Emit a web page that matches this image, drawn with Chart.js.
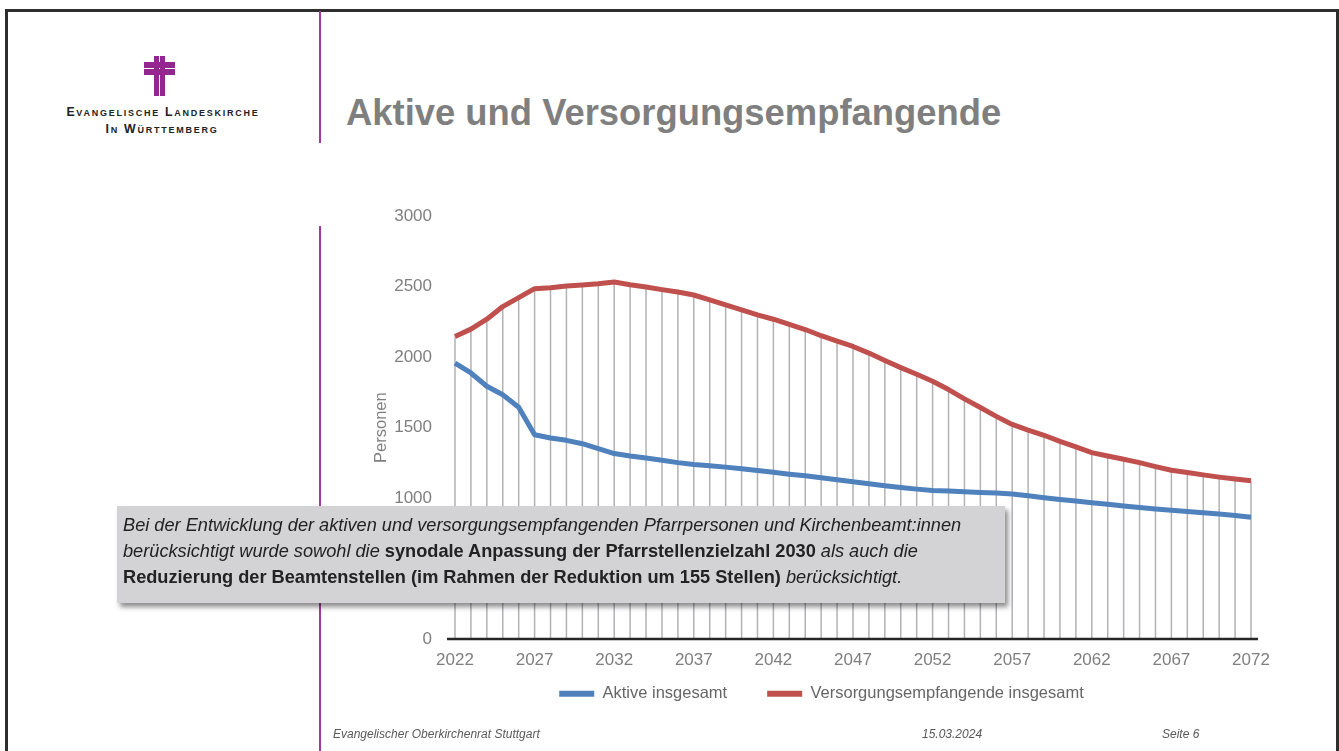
<!DOCTYPE html>
<html>
<head>
<meta charset="utf-8">
<script src="https://cdn.jsdelivr.net/npm/chart.js@4.4.1/dist/chart.umd.min.js"></script>
<style>
  body { margin: 0; width: 1339px; height: 751px; overflow: hidden; background: #fff; position: relative;
         font-family: "Liberation Sans", Arial, sans-serif; }
  .frame { position: absolute; left: 5px; top: 9px; width: 1328px; height: 760px; border: 3px solid #2e2e2e; }
  .vline { position: absolute; left: 319px; width: 2px; background: #a2399e; }
  .cross div { position: absolute; background: #93278f; }
  .logo { position: absolute; left: 0; width: 320px; text-align: center; color: #222; font-weight: bold;
          font-variant: small-caps; letter-spacing: 1.75px; font-size: 12.3px; }
  h1 { position: absolute; left: 346px; top: 92px; margin: 0; font-size: 36.4px; font-weight: bold; color: #7f7f7f; }
  #wrap { position: absolute; left: 330px; top: 191px; width: 980px; height: 549px; }
  .note { position: absolute; left: 117px; top: 506px; width: 882px; height: 85px; padding: 6px 0 6px 6px;
          background: #d3d3d5; box-shadow: 3px 4px 5px rgba(0,0,0,0.45); color: #222;
          font-size: 18.2px; line-height: 26px; font-style: italic; }
  .note b { font-style: normal; }
  .foot { position: absolute; top: 727px; font-style: italic; font-size: 12px; color: #595959; }
</style>
</head>
<body>
<div class="frame"></div>
<div class="vline" style="top:11px;height:132px"></div>
<div class="vline" style="top:226px;height:525px"></div>

<div class="cross">
  <div style="left:154px;top:56px;width:5px;height:40px"></div>
  <div style="left:160px;top:56px;width:5px;height:40px"></div>
  <div style="left:144px;top:62px;width:31px;height:6px"></div>
  <div style="left:144px;top:69px;width:31px;height:6px"></div>
</div>
<div class="logo" style="top:105px;left:3px">Evangelische Landeskirche</div>
<div class="logo" style="top:122px;left:2px">In Württemberg</div>

<h1>Aktive und Versorgungsempfangende</h1>

<div id="wrap"><canvas id="chart"></canvas></div>

<div class="note">
  Bei der Entwicklung der aktiven und versorgungsempfangenden Pfarrpersonen und Kirchenbeamt:innen<br>
  berücksichtigt wurde sowohl die <b>synodale Anpassung der Pfarrstellenzielzahl 2030</b> als auch die<br>
  <b>Reduzierung der Beamtenstellen (im Rahmen der Reduktion um 155 Stellen)</b> berücksichtigt.
</div>

<div class="foot" style="left:333px">Evangelischer Oberkirchenrat Stuttgart</div>
<div class="foot" style="left:922px">15.03.2024</div>
<div class="foot" style="left:1162px">Seite 6</div>

<script>
const years = ['2022','2023','2024','2025','2026','2027','2028','2029','2030','2031',
  '2032','2033','2034','2035','2036','2037','2038','2039','2040','2041',
  '2042','2043','2044','2045','2046','2047','2048','2049','2050','2051',
  '2052','2053','2054','2055','2056','2057','2058','2059','2060','2061',
  '2062','2063','2064','2065','2066','2067','2068','2069','2070','2071','2072'];

const aktive = [1958,1888,1794,1733,1645,1450,1427,1410,1386,1351,
  1316,1299,1285,1269,1252,1238,1229,1220,1208,1196,
  1184,1170,1158,1144,1130,1116,1102,1088,1076,1064,
  1054,1050,1045,1040,1036,1029,1017,1003,991,980,
  968,957,944,933,923,914,905,896,887,876,865];

const versorgung = [2147,2199,2269,2359,2422,2486,2493,2505,2512,2521,
  2533,2514,2498,2479,2462,2441,2406,2371,2335,2300,
  2269,2232,2196,2152,2114,2076,2029,1977,1926,1879,
  1829,1770,1704,1643,1580,1523,1483,1446,1403,1363,
  1323,1299,1276,1252,1224,1198,1182,1165,1149,1135,1123];

const yTicks = [0, 500, 1000, 1500, 2000, 2500, 3000];

// Excel-style drop lines from the top series down to 0, plus the x axis line
const dropLines = {
  id: 'dropLines',
  beforeDatasetsDraw(chart) {
    const { ctx, scales: { x, y } } = chart;
    const y0 = y.getPixelForValue(0);
    ctx.save();
    ctx.strokeStyle = '#b2b2b6';
    ctx.lineWidth = 1.5;
    chart.getDatasetMeta(1).data.forEach(pt => {
      ctx.beginPath();
      ctx.moveTo(pt.x, pt.y);
      ctx.lineTo(pt.x, y0);
      ctx.stroke();
    });
    ctx.strokeStyle = '#262626';
    ctx.lineWidth = 2.5;
    ctx.beginPath();
    ctx.moveTo(x.left - 8, y0);
    ctx.lineTo(x.right + 7, y0);
    ctx.stroke();
    ctx.restore();
  }
};

// legend padding is 40 so items sit 40px apart; pull the row back up towards the axis
// and centre it on the canvas rather than on the padded box
const legendLift = {
  id: 'legendLift',
  afterInit(chart) {
    const lg = chart.legend;
    const draw = lg.draw.bind(lg);
    lg.draw = function () {
      chart.ctx.save();
      chart.ctx.translate(16, -28);
      draw();
      chart.ctx.restore();
    };
  }
};

const grey = '#7f7f7f';
const font = s => ({ family: '"Liberation Sans", Arial, sans-serif', size: s });

new Chart(document.getElementById('chart'), {
  type: 'line',
  data: {
    labels: years,
    datasets: [
      { label: 'Aktive insgesamt', data: aktive, borderColor: '#4f81bd', backgroundColor: '#4f81bd',
        borderWidth: 5, pointRadius: 0, borderJoinStyle: 'round' },
      { label: 'Versorgungsempfangende insgesamt', data: versorgung, borderColor: '#c0504d', backgroundColor: '#c0504d',
        borderWidth: 5, pointRadius: 0, borderJoinStyle: 'round' }
    ]
  },
  options: {
    responsive: true,
    maintainAspectRatio: false,
    animation: false,
    layout: { padding: { left: 30, right: 59, top: 0, bottom: 0 } },
    scales: {
      x: {
        offset: false,
        grid: { display: false },
        border: { display: false },
        ticks: {
          autoSkip: false, maxRotation: 0, color: grey, font: font(17), padding: 3,
          callback: (v, i) => (i % 5 === 0 ? years[i] : '')
        }
      },
      y: {
        min: 0, max: 3000,
        afterBuildTicks: axis => { axis.ticks = yTicks.map(v => ({ value: v })); },
        afterFit: axis => { axis.width = 95; },
        grid: { display: false },
        border: { display: false },
        ticks: { color: grey, font: font(17), padding: 15, callback: v => String(v) },
        title: { display: true, text: 'Personen', color: grey, font: font(16.5), padding: 12 }
      }
    },
    plugins: {
      legend: {
        position: 'bottom',
        labels: {
          boxWidth: 35, boxHeight: 6, color: '#666', font: font(16.5), padding: 40,
          generateLabels: chart => Chart.defaults.plugins.legend.labels.generateLabels(chart)
            .map(item => ({ ...item, lineWidth: 0 }))
        }
      },
      tooltip: { enabled: false }
    }
  },
  plugins: [dropLines, legendLift]
});
</script>
</body>
</html>
